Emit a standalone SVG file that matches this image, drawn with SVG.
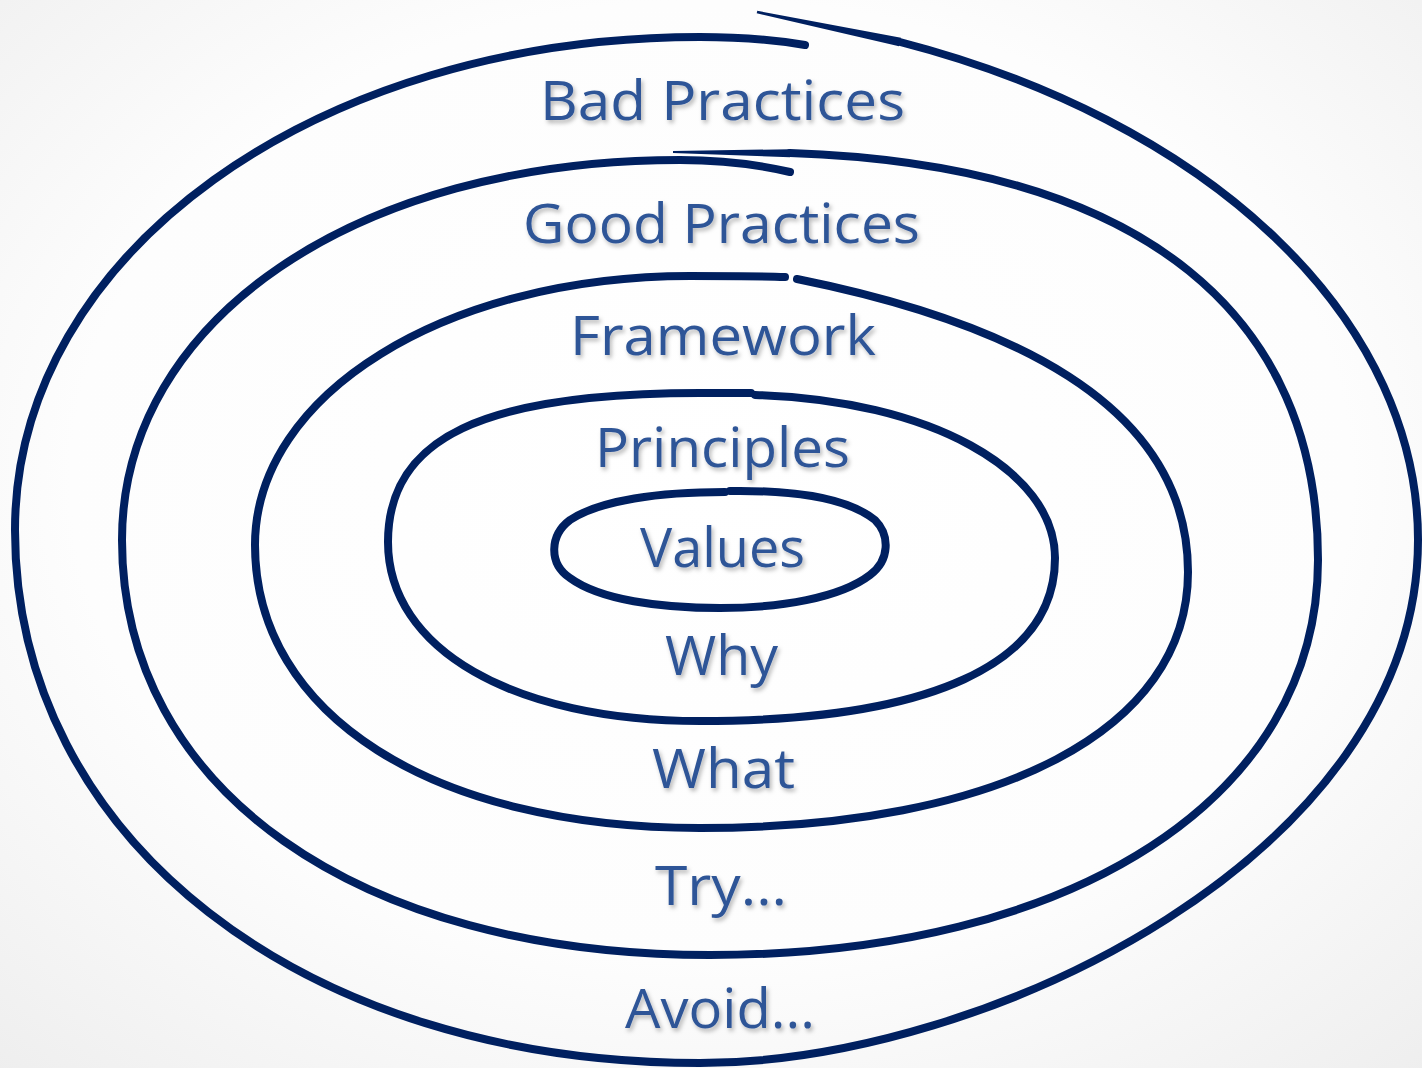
<svg xmlns="http://www.w3.org/2000/svg" width="1422" height="1068" viewBox="0 0 1422 1068">
<defs>
<radialGradient id="bg" cx="0.5" cy="0.45" r="0.75">
<stop offset="0" stop-color="#ffffff"/>
<stop offset="0.6" stop-color="#fdfdfd"/>
<stop offset="1" stop-color="#eeeeee"/>
</radialGradient>
<filter id="sh" x="-10%" y="-20%" width="130%" height="150%">
<feDropShadow dx="2" dy="3" stdDeviation="2" flood-color="#000" flood-opacity="0.28"/>
</filter>
<style>
.ring{fill:none;stroke:#002060;stroke-width:8;stroke-linecap:round;stroke-linejoin:round}
.tip{fill:#002060;stroke:none}
.lbl{font-family:"Open Sans","DejaVu Sans",sans-serif;font-size:54px;fill:#2F5597;text-anchor:start;filter:url(#sh)}
</style>
</defs>
<rect x="0" y="0" width="1422" height="1068" fill="url(#bg)"/>
<g id="rings">
<g id="ring-outer">
<path class="tip" d="M757.3 10.8 L901 37.8 L899 46.2 L756.7 13.2 Z"/>
<path class="ring" d="M900 42 A818 535 0 0 1 1418 540 C1418 854,987 1063,700 1063 C303 1063,15 839,15 530 C15 254,316 37,700 37 C740 37,775 40,805 45"/>
</g>
<g id="ring-2">
<path class="tip" d="M673 151 L790 149.2 L790 157.2 L673 153 Z"/>
<path class="ring" d="M790 153 C1150 165,1318 320,1318 560 C1318 797,1075 955,710 955 C357 955,122 789,122 540 C122 320,356 160,680 160 C720 160,760 165,790 172"/>
</g>
<g id="ring-3">
<path class="ring" d="M797 279 C1000 320,1188 400,1188 572 C1188 730,1000 828,700 828 C433 828,255 715,255 545 C255 394,446 276,690 276 C730 276,760 276,785 277"/>
</g>
<g id="ring-4">
<path class="ring" d="M755 395 C930 400,1055 470,1055 558 C1055 664,931 721,700 721 C513 721,388 649,388 542 C388 438,482 393,700 393 L751 393"/>
</g>
<g id="ring-values">
<path class="ring" d="M730 491 C800 490,850 500,875 520 C890 535,890 560,870 575 C840 598,780 608,720 608 C660 608,600 600,570 578 C548 563,550 535,570 520 C600 500,660 492,725 492"/>
</g>
</g>
<g id="labels">
<g id="bad-practices"><text class="lbl" x="540" y="120" textLength="365" lengthAdjust="spacingAndGlyphs">Bad Practices</text></g>
<g id="good-practices"><text class="lbl" x="523" y="243" textLength="397" lengthAdjust="spacingAndGlyphs">Good Practices</text></g>
<g id="framework"><text class="lbl" x="570" y="355" textLength="306" lengthAdjust="spacingAndGlyphs">Framework</text></g>
<g id="principles"><text class="lbl" x="595" y="467" textLength="255" lengthAdjust="spacingAndGlyphs">Principles</text></g>
<g id="values"><text class="lbl" x="640" y="567" textLength="165" lengthAdjust="spacingAndGlyphs">Values</text></g>
<g id="why"><text class="lbl" x="665" y="675" textLength="113" lengthAdjust="spacingAndGlyphs">Why</text></g>
<g id="what"><text class="lbl" x="652" y="788" textLength="143" lengthAdjust="spacingAndGlyphs">What</text></g>
<g id="try"><text class="lbl" x="655" y="905" textLength="132" lengthAdjust="spacingAndGlyphs">Try...</text></g>
<g id="avoid"><text class="lbl" x="625" y="1028" textLength="190" lengthAdjust="spacingAndGlyphs">Avoid...</text></g>
</g>
</svg>
